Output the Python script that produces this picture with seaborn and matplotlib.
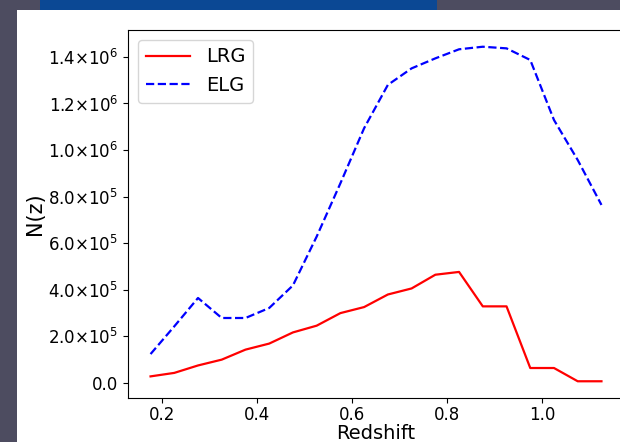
import numpy as np
import pandas as pd
import matplotlib
matplotlib.use("Agg")
import matplotlib.pyplot as plt
import seaborn as sns
from matplotlib.patches import Rectangle, FancyBboxPatch
from matplotlib.ticker import FuncFormatter

# Redshift bin centres and N(z) counts
redshift = [0.175, 0.225, 0.275, 0.325, 0.375, 0.425, 0.475, 0.525, 0.575, 0.625,
            0.675, 0.725, 0.775, 0.825, 0.875, 0.925, 0.975, 1.025, 1.075, 1.125]
n_lrg = [27000, 42000, 74000, 99000, 142000, 168000, 216000, 245000, 299000, 325000,
         379000, 405000, 464000, 476000, 328000, 328000, 63000, 63000, 6000, 6000]
n_elg = [123000, 242000, 364000, 278000, 278000, 321000, 418000, 628000, 857000, 1094000,
         1280000, 1351000, 1394000, 1433000, 1444000, 1437000, 1387000, 1129000, 957000, 764000]

df = pd.DataFrame({"z": redshift, "LRG": n_lrg, "ELG": n_elg})

fig = plt.figure(figsize=(6.2, 4.42), dpi=100)
fig.patch.set_facecolor("#4d4c60")

# slide background: blue banner + white card behind the plot
fig.patches.append(FancyBboxPatch((40 / 620, 0.90), 397 / 620, 0.2, boxstyle="round,pad=0,rounding_size=0.04",
                                  transform=fig.transFigure, facecolor="#0b4894", edgecolor="none", zorder=0))
fig.patches.append(Rectangle((17 / 620, 0), 1, 432 / 442, transform=fig.transFigure,
                             facecolor="white", edgecolor="none", zorder=1))

ax = fig.add_axes([128 / 620, 44 / 442, 496 / 620, 368 / 442])
ax.set_zorder(2)

sns.lineplot(data=df, x="z", y="LRG", color="red", linewidth=1.6, label="LRG", ax=ax)
sns.lineplot(data=df, x="z", y="ELG", color="blue", linewidth=1.6, linestyle="--", label="ELG", ax=ax)


def sci_fmt(v, pos):
    if v == 0:
        return "0.0"
    exp = int(np.floor(np.log10(abs(v))))
    mant = v / 10 ** exp
    return r"$%.1f{\times}10^{%d}$" % (mant, exp)


ax.set_yticks([0, 2e5, 4e5, 6e5, 8e5, 1e6, 1.2e6, 1.4e6])
ax.yaxis.set_major_formatter(FuncFormatter(sci_fmt))
ax.set_xticks([0.2, 0.4, 0.6, 0.8, 1.0])
ax.tick_params(labelsize=12)
ax.tick_params(axis="x", pad=2.5)
ax.set_xlabel("Redshift", fontsize=14, labelpad=0)
ax.set_ylabel("N(z)", fontsize=15, labelpad=2)
ax.legend(loc="upper left", fontsize=14, handlelength=2.3)

plt.savefig("out.png", dpi=100, facecolor=fig.get_facecolor())
